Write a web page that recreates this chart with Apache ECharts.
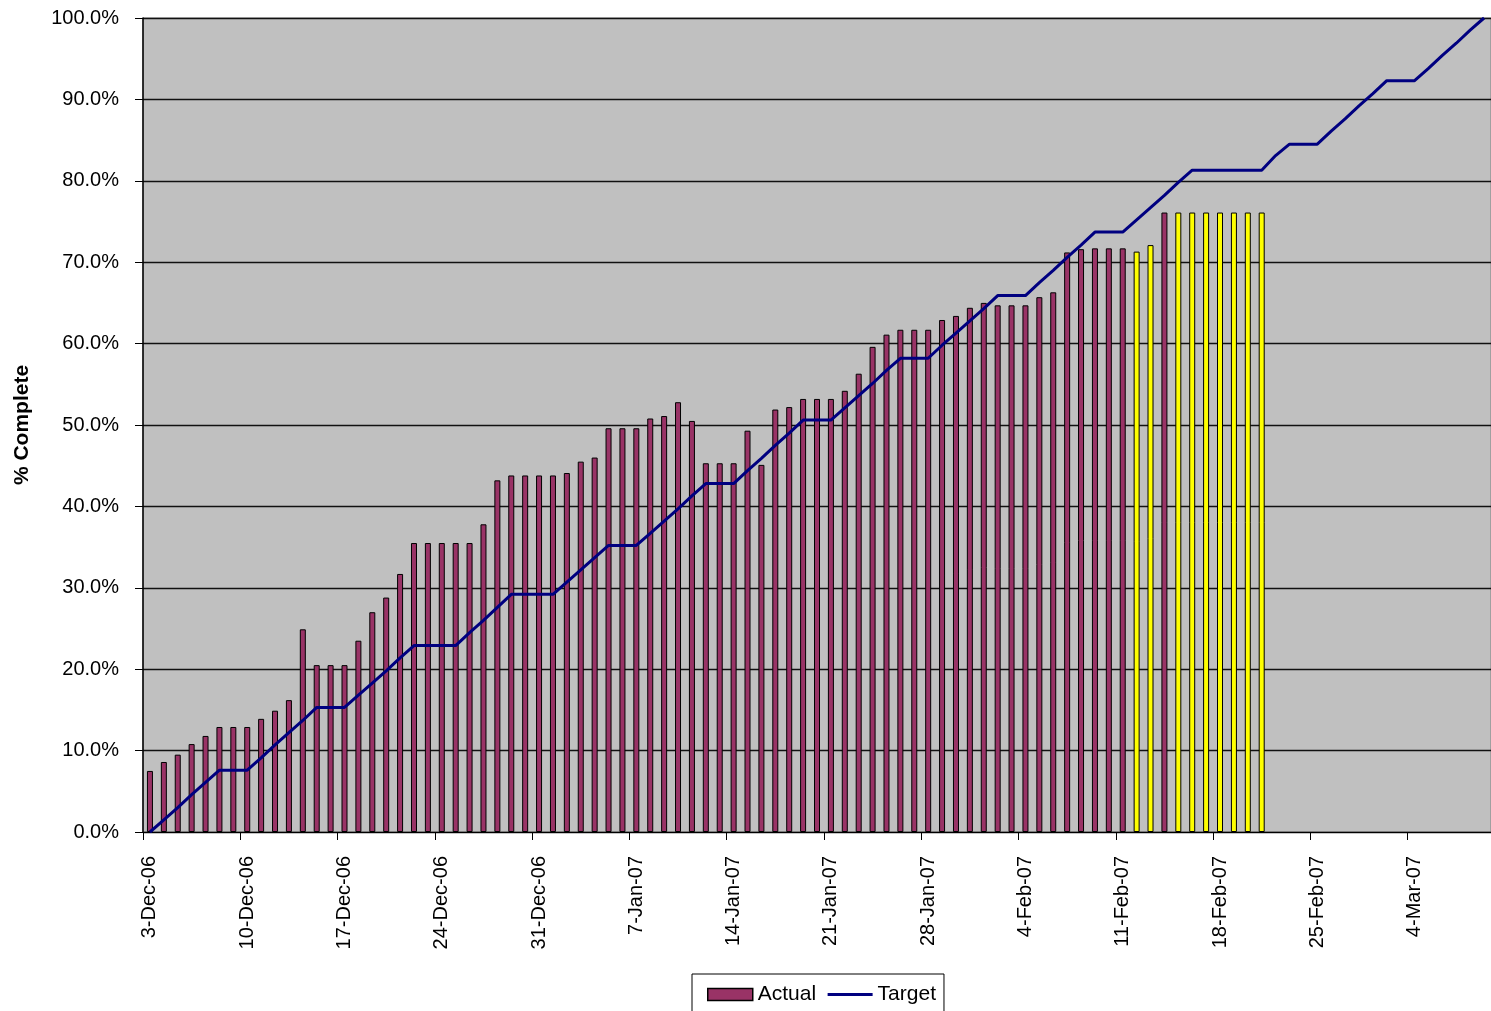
<!DOCTYPE html>
<html>
<head>
<meta charset="utf-8">
<script src="https://cdn.jsdelivr.net/npm/echarts@6/dist/echarts.min.js"></script>
<style>
html,body{margin:0;padding:0;background:#fff;}
#chart{width:1491px;height:1011px;}
</style>
</head>
<body>
<div id="chart"></div>
<script>
// Categories: one per day, 3-Dec-06 .. 9-Mar-07
const categories = [
 '3-Dec-06','4-Dec-06','5-Dec-06','6-Dec-06','7-Dec-06','8-Dec-06','9-Dec-06','10-Dec-06','11-Dec-06','12-Dec-06',
 '13-Dec-06','14-Dec-06','15-Dec-06','16-Dec-06','17-Dec-06','18-Dec-06','19-Dec-06','20-Dec-06','21-Dec-06','22-Dec-06',
 '23-Dec-06','24-Dec-06','25-Dec-06','26-Dec-06','27-Dec-06','28-Dec-06','29-Dec-06','30-Dec-06','31-Dec-06',
 '1-Jan-07','2-Jan-07','3-Jan-07','4-Jan-07','5-Jan-07','6-Jan-07','7-Jan-07','8-Jan-07','9-Jan-07','10-Jan-07',
 '11-Jan-07','12-Jan-07','13-Jan-07','14-Jan-07','15-Jan-07','16-Jan-07','17-Jan-07','18-Jan-07','19-Jan-07','20-Jan-07',
 '21-Jan-07','22-Jan-07','23-Jan-07','24-Jan-07','25-Jan-07','26-Jan-07','27-Jan-07','28-Jan-07','29-Jan-07','30-Jan-07','31-Jan-07',
 '1-Feb-07','2-Feb-07','3-Feb-07','4-Feb-07','5-Feb-07','6-Feb-07','7-Feb-07','8-Feb-07','9-Feb-07','10-Feb-07',
 '11-Feb-07','12-Feb-07','13-Feb-07','14-Feb-07','15-Feb-07','16-Feb-07','17-Feb-07','18-Feb-07','19-Feb-07','20-Feb-07',
 '21-Feb-07','22-Feb-07','23-Feb-07','24-Feb-07','25-Feb-07','26-Feb-07','27-Feb-07','28-Feb-07',
 '1-Mar-07','2-Mar-07','3-Mar-07','4-Mar-07','5-Mar-07','6-Mar-07','7-Mar-07','8-Mar-07','9-Mar-07'
];

// Actual % complete (3-Dec-06 .. 21-Feb-07)
const actualValues = [
 7.5, 8.6, 9.5, 10.8, 11.8, 12.9, 12.9, 12.9, 13.9, 14.9,
 16.2, 24.9, 20.5, 20.5, 20.5, 23.5, 27.0, 28.8, 31.7, 35.5,
 35.5, 35.5, 35.5, 35.5, 37.8, 43.2, 43.8, 43.8, 43.8, 43.8,
 44.1, 45.5, 46.0, 49.6, 49.6, 49.6, 50.8, 51.1, 52.8, 50.5,
 45.3, 45.3, 45.3, 49.3, 45.1, 51.9, 52.2, 53.2, 53.2, 53.2,
 54.2, 56.3, 59.6, 61.1, 61.7, 61.7, 61.7, 62.9, 63.4, 64.4,
 65.0, 64.7, 64.7, 64.7, 65.7, 66.3, 71.2, 71.6, 71.7, 71.7,
 71.7, 71.3, 72.1, 76.1, 76.1, 76.1, 76.1, 76.1, 76.1, 76.1,
 76.1
];

// Days whose Actual bar is highlighted in yellow
const highlightedDays = ['12-Feb-07','13-Feb-07','15-Feb-07','16-Feb-07','17-Feb-07','18-Feb-07','19-Feb-07','20-Feb-07','21-Feb-07'];

// Target % complete (3-Dec-06 .. 9-Mar-07)
const targetValues = [
 0.0, 1.5, 3.0, 4.6, 6.1, 7.6, 7.6, 7.6, 9.1, 10.7,
 12.2, 13.7, 15.3, 15.3, 15.3, 16.8, 18.3, 19.8, 21.4, 22.9,
 22.9, 22.9, 22.9, 24.5, 26.0, 27.6, 29.2, 29.2, 29.2, 29.2,
 30.7, 32.2, 33.7, 35.2, 35.2, 35.2, 36.7, 38.2, 39.7, 41.3,
 42.8, 42.8, 42.8, 44.4, 45.9, 47.5, 49.0, 50.6, 50.6, 50.6,
 52.1, 53.6, 55.1, 56.7, 58.2, 58.2, 58.2, 59.8, 61.3, 62.8,
 64.3, 65.9, 65.9, 65.9, 67.5, 69.0, 70.6, 72.1, 73.7, 73.7,
 73.7, 75.2, 76.7, 78.2, 79.8, 81.3, 81.3, 81.3, 81.3, 81.3,
 81.3, 83.1, 84.5, 84.5, 84.5, 86.1, 87.6, 89.2, 90.7, 92.3,
 92.3, 92.3, 93.8, 95.4, 96.9, 98.5, 100.0
];

const yTicks = { min: 0, max: 100, interval: 10 };

const FONT = "'Liberation Sans', Arial, sans-serif";
const MAROON = '#993366';
const YELLOW = '#FFFF00';
const NAVY = '#000080';

const barData = actualValues.map((v, i) => ({
  value: v,
  itemStyle: { color: highlightedDays.includes(categories[i]) ? YELLOW : MAROON }
}));

const chart = echarts.init(document.getElementById('chart'), null, { renderer: 'canvas' });
chart.setOption({
  backgroundColor: '#ffffff',
  animation: false,
  textStyle: { fontFamily: FONT },
  grid: {
    left: 143, right: 0, top: 18, bottom: 179,
    containLabel: false, outerBoundsMode: 'none',
    show: true, backgroundColor: '#C0C0C0', borderColor: '#808080', borderWidth: 1
  },
  legend: {
    left: 692, top: 974,
    padding: [10, 8, 20, 15],
    borderColor: '#000', borderWidth: 1,
    itemWidth: 45, itemHeight: 12, itemGap: 10,
    textStyle: { fontFamily: FONT, fontSize: 21, color: '#000' },
    data: [
      { name: 'Actual', icon: 'rect', itemStyle: { color: MAROON, borderColor: '#000', borderWidth: 1.5 } },
      { name: 'Target', itemStyle: { opacity: 0 }, lineStyle: { color: NAVY, width: 3 } }
    ]
  },
  xAxis: {
    type: 'category',
    data: categories,
    boundaryGap: true,
    axisLine: { lineStyle: { color: '#000', width: 1 } },
    axisTick: { show: true, interval: 6, length: 8, lineStyle: { color: '#000' } },
    axisLabel: {
      interval: 6, rotate: 90, margin: 24,
      fontFamily: FONT, fontSize: 20, color: '#000'
    },
    splitLine: { show: false }
  },
  yAxis: {
    type: 'value',
    min: yTicks.min, max: yTicks.max, interval: yTicks.interval,
    name: '% Complete',
    nameLocation: 'middle', nameRotate: 90, nameGap: 110,
    nameTextStyle: { fontFamily: FONT, fontWeight: 'bold', fontSize: 21, color: '#000' },
    axisLine: { show: true, lineStyle: { color: '#000', width: 1.5 } },
    axisTick: { show: true, length: 8, lineStyle: { color: '#000' } },
    axisLabel: {
      margin: 24, fontFamily: FONT, fontSize: 20, color: '#000',
      formatter: v => v.toFixed(1) + '%'
    },
    splitLine: { show: true, lineStyle: { color: '#111', width: 1.3 } }
  },
  series: [
    {
      name: 'Actual', type: 'bar', data: barData, barWidth: 6,
      itemStyle: { color: MAROON, borderColor: '#000', borderWidth: 1 },
      z: 2
    },
    {
      name: 'Target', type: 'line', data: targetValues,
      symbol: 'none', showSymbol: false,
      lineStyle: { color: NAVY, width: 3 },
      itemStyle: { color: NAVY },
      z: 3
    }
  ]
});
</script>
</body>
</html>
